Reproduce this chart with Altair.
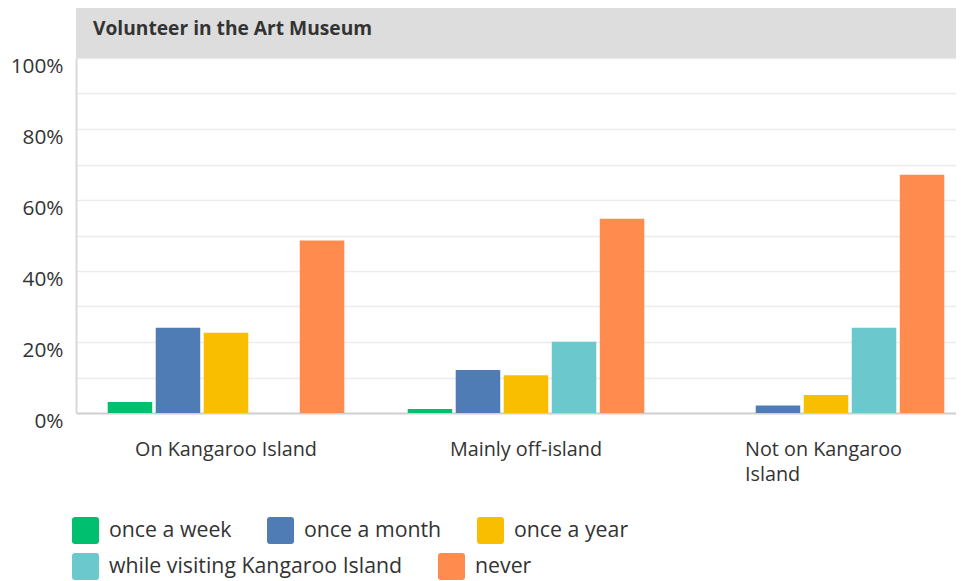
import altair as alt
import pandas as pd

# ---- data ----
title_text = "Volunteer in the Art Museum"
groups = ["On Kangaroo Island", "Mainly off-island", "Not on Kangaroo Island"]
group_tick_labels = {"Not on Kangaroo Island": ["Not on Kangaroo", "Island"]}
series = ["once a week", "once a month", "once a year",
          "while visiting Kangaroo Island", "never"]
colors = ["#00bf6f", "#507cb6", "#f9be00", "#6bc8cd", "#ff8b4f"]

once_a_week = [0.031, 0.011, 0.0]
once_a_month = [0.240, 0.121, 0.021]
once_a_year = [0.226, 0.106, 0.051]
while_visiting = [0.0, 0.201, 0.240]
never = [0.486, 0.547, 0.671]

y_ticks = [0.0, 0.1, 0.2, 0.3, 0.4, 0.5, 0.6, 0.7, 0.8, 0.9, 1.0]

rows = []
for s, vals in zip(series, [once_a_week, once_a_month, once_a_year, while_visiting, never]):
    for g, v in zip(groups, vals):
        rows.append({"group": g, "series": s, "value": v})
df = pd.DataFrame(rows)

# ---- styling ----
W, H = 880, 355          # visible plot area (svg stays within the page width)
X_RANGE = 900            # full band range of the original, partly outside the view
FONT = "Open Sans"
TXT = "#333333"
ROUNDED = ("M-1,-0.78 Q-1,-1 -0.78,-1 L0.78,-1 Q1,-1 1,-0.78 L1,0.78 "
           "Q1,1 0.78,1 L-0.78,1 Q-1,1 -1,0.78 Z")

# x label expression built from the tick-label mapping
label_expr = "datum.label"
for k, lines in group_tick_labels.items():
    arr = "[" + ", ".join("'" + l + "'" for l in lines) + "]"
    label_expr = f"datum.value === '{k}' ? {arr} : " + label_expr
wrapped_test = " || ".join(f"datum.value === '{k}'" for k in group_tick_labels)

x_enc = alt.X(
    "group:N",
    sort=groups,
    scale=alt.Scale(domain=groups, range=[0, X_RANGE], paddingInner=0, paddingOuter=0),
    axis=alt.Axis(
        title=None, domain=False, ticks=False, labelAngle=0,
        labelFontSize=19.8, labelColor=TXT, labelFont=FONT,
        labelPadding=26, labelLimit=400, labelLineHeight=25,
        labelExpr=label_expr,
        labelAlign=alt.condition(wrapped_test, alt.value("left"), alt.value("center")),
        labelOffset=alt.condition(wrapped_test, alt.value(-81), alt.value(0)),
    ),
)
xoff_enc = alt.XOffset(
    "series:N",
    scale=alt.Scale(domain=series, paddingInner=0.073, paddingOuter=0.66),
)
y_enc = alt.Y(
    "value:Q",
    scale=alt.Scale(domain=[0, 1], nice=False),
    axis=alt.Axis(
        title=None, values=y_ticks, ticks=False,
        labelExpr="round(datum.value*100) % 20 === 0 ? round(datum.value*100) + '%' : ''",
        labelFontSize=20.8, labelColor=TXT, labelFont=FONT,
        labelPadding=13, labelOffset=8,
        domain=True, domainColor="#d9d9d9", domainWidth=2,
        gridColor=alt.condition("datum.value === 0", alt.value("#cfcfcf"), alt.value("#ececec")),
        gridWidth=alt.condition("datum.value === 0", alt.value(2), alt.value(1.5)),
    ),
)


def legend(y):
    return alt.Legend(
        title=None, orient="none", legendX=-4, legendY=y, direction="horizontal",
        symbolType=ROUNDED, symbolSize=729, symbolStrokeWidth=0, symbolOpacity=1,
        labelFontSize=21.3, labelColor=TXT, labelFont=FONT, labelOffset=10,
        columnPadding=35, labelLimit=400,
    )


base = alt.Chart(df).encode(x=x_enc, xOffset=xoff_enc, y=y_enc)

bars1 = base.transform_filter(
    alt.FieldOneOfPredicate(field="series", oneOf=series[:3])
).mark_bar().encode(
    color=alt.Color("series:N", scale=alt.Scale(domain=series[:3], range=colors[:3]),
                    legend=legend(459)),
)

bars2 = base.transform_filter(
    alt.FieldOneOfPredicate(field="series", oneOf=series[3:])
).mark_bar().encode(
    fill=alt.Fill("series:N", scale=alt.Scale(domain=series[3:], range=colors[3:]),
                  legend=legend(495)),
)

title_df = pd.DataFrame({"t": [title_text]})
header = alt.Chart(title_df).mark_rect(color="#dddddd").encode(
    x=alt.value(0), x2=alt.value(W), y=alt.value(-50), y2=alt.value(0)
)
header_text = alt.Chart(title_df).mark_text(
    align="left", baseline="middle", fontSize=19.2, fontWeight="bold",
    color=TXT, font=FONT,
).encode(x=alt.value(17), y=alt.value(-29), text="t:N")

chart = alt.layer(header, header_text, bars1, bars2).properties(
    width=W, height=H,
    autosize=alt.AutoSizeParams(type="none"),
    padding={"left": 68, "top": 50, "right": 0, "bottom": 168},
).configure(font=FONT).configure_view(stroke=None)

chart.save("out.html", embed_options={"renderer": "svg", "actions": False})
